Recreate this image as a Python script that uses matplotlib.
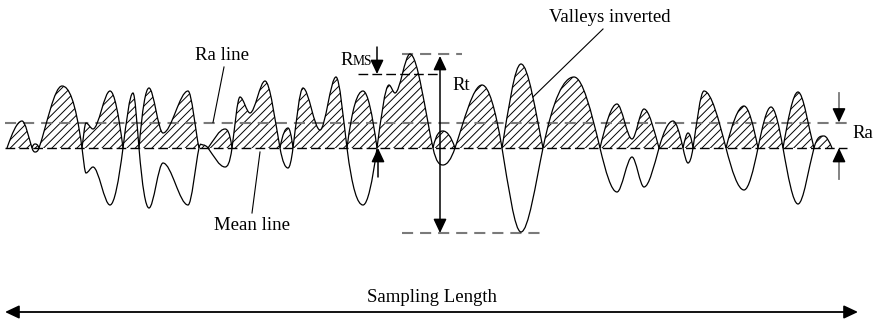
import numpy as np
import matplotlib
matplotlib.use("Agg")
import matplotlib.pyplot as plt
from matplotlib.path import Path
from matplotlib.patches import PathPatch

# Surface profile: knots at peaks, valleys and mean-line crossings
# x = position along the sampling length, y = height above the mean line
profile_x = [7, 22, 32, 35, 39, 62, 82, 86, 93, 110, 123, 133, 139, 149, 163,
             188, 199, 203, 208, 225, 232, 240, 250, 265, 280, 288, 293, 303,
             320, 336, 347, 363, 377, 389, 395, 410, 433, 443, 455, 482, 502,
             521, 543, 574, 600, 617, 632, 644, 659, 673, 683, 688, 693, 704,
             726, 744, 758, 771, 783, 798, 814, 824, 832]
profile_y = [0, 27, 0, -4, 0, 62, 0, -25, -19, -57, 0, 55, 0, -60, -15,
             -57, 0, 3, 0, -19, 0, 51, 35, 67, 0, -20, 0, 60,
             18, 71, 0, -57, 0, 63, 55, 94, 0, -17, 0, 63, 0,
             -84, 0, 71, 0, -44, -9, -39, 0, 27, 0, -15, 0, 57,
             0, -42, 0, 41, 0, -56, 0, 12, 0]

ra_level = 25.5          # Ra line height above the mean line
peak_level = 94          # highest peak
valley_level = -85       # deepest valley
rms_level = 74           # RMS marker level

MEAN_Y = 148  # figure-pixel row of the mean line (used for the axes limits)

plt.rcParams["lines.scale_dashes"] = False
SERIF = ["Liberation Serif", "DejaVu Serif"]

fig = plt.figure(figsize=(8.75, 3.2), dpi=100)
ax = fig.add_axes([0, 0, 1, 1])
ax.set_xlim(0, 875)
ax.set_ylim(MEAN_Y - 320, MEAN_Y)
ax.axis("off")

xs = np.asarray(profile_x, float)
ys = np.asarray(profile_y, float)
n = len(xs)

# tangent slopes: flat at extrema, sine-like at crossings
slopes = np.zeros(n)
for i in range(n):
    if ys[i] != 0:
        continue
    if i == 0:
        slopes[i] = np.pi / 2 * ys[1] / (xs[1] - xs[0])
    elif i == n - 1:
        slopes[i] = -np.pi / 2 * ys[i - 1] / (xs[i] - xs[i - 1])
    else:
        slopes[i] = np.pi / 4 * (ys[i + 1] / (xs[i + 1] - xs[i])
                                 - ys[i - 1] / (xs[i] - xs[i - 1]))


def segment(i):
    x0, y0, x1, y1 = xs[i], ys[i], xs[i + 1], ys[i + 1]
    d = (x1 - x0) / 3.0
    return [(x0 + d, y0 + slopes[i] * d), (x1 - d, y1 - slopes[i + 1] * d), (x1, y1)]


# profile outline
verts = [(xs[0], ys[0])]
codes = [Path.MOVETO]
for i in range(n - 1):
    verts += segment(i)
    codes += [Path.CURVE4] * 3
profile_path = Path(verts, codes)

# valleys folded above the mean line
fold_verts = [(xs[0], abs(ys[0]))]
fold_codes = [Path.MOVETO]
inv_verts, inv_codes = [], []
for i in range(n - 1):
    seg = segment(i)
    neg = (ys[i] + ys[i + 1]) < 0
    if neg:
        seg = [(px, -py) for px, py in seg]
        if not inv_codes or inv_verts[-1] != (xs[i], -ys[i]):
            inv_verts.append((xs[i], -ys[i]))
            inv_codes.append(Path.MOVETO)
        inv_verts += seg
        inv_codes += [Path.CURVE4] * 3
    fold_verts += seg
    fold_codes += [Path.CURVE4] * 3
fold_verts += [(xs[0], 0), (xs[0], 0)]
fold_codes += [Path.LINETO, Path.CLOSEPOLY]

plt.rcParams["hatch.linewidth"] = 0.7
ax.add_patch(PathPatch(Path(fold_verts, fold_codes), facecolor="white",
                       edgecolor="black", linewidth=0, hatch="////", zorder=2))
ax.add_patch(PathPatch(profile_path, facecolor="none", edgecolor="black",
                       linewidth=0.9, zorder=4))
ax.add_patch(PathPatch(Path(inv_verts, inv_codes), facecolor="none",
                       edgecolor="black", linewidth=0.9, zorder=4))

gray = "#7a7a7a"
# mean line and Ra line
ax.plot([5, 847], [0, 0], color="black", lw=1.0, ls=(0, (7, 3)), zorder=3)
ax.plot([5, 847], [ra_level, ra_level], color=gray, lw=1.5, ls=(0, (8, 5)), zorder=3)

# Rt reference lines
ax.plot([402, 462], [peak_level, peak_level], color=gray, lw=1.5, ls=(0, (8, 5)), zorder=3)
ax.plot([402, 542], [valley_level, valley_level], color=gray, lw=1.5, ls=(0, (8, 5)), zorder=3)
ax.plot([358, 440], [rms_level, rms_level], color="black", lw=1.0, ls=(0, (7, 3)), zorder=3)

head = "-|>,head_length=0.85,head_width=0.4"


def arrow(x0, y0, x1, y1, style=head, color="black", lw=1.1):
    ax.annotate("", xy=(x1, y1), xytext=(x0, y0),
                arrowprops=dict(arrowstyle=style, color=color, lw=lw,
                                shrinkA=0, shrinkB=0, mutation_scale=10),
                zorder=5)


# Rt double arrow
arrow(440, peak_level - 2, 440, valley_level,
      style="<|-|>,head_length=0.85,head_width=0.4")
# RMS arrows
arrow(377, MEAN_Y - 47, 377, rms_level)
arrow(378, MEAN_Y - 177, 378, 0)
# Ra arrows (grey shafts, black heads)
ax.plot([839, 839], [MEAN_Y - 93, ra_level + 10], color=gray, lw=1.3, zorder=4)
arrow(839, ra_level + 11, 839, ra_level)
ax.plot([839, 839], [MEAN_Y - 179, -10], color=gray, lw=1.3, zorder=4)
arrow(839, -11, 839, 0)

# sampling length arrow
arrow(5, MEAN_Y - 312, 858, MEAN_Y - 312,
      style="<|-|>,head_length=0.85,head_width=0.4", lw=1.3)

# leader lines
ax.plot([224, 213], [MEAN_Y - 67, ra_level], color="black", lw=0.8, zorder=5)
ax.plot([252, 260], [MEAN_Y - 213, MEAN_Y - 152], color="black", lw=0.8, zorder=5)
ax.plot([603, 533], [MEAN_Y - 29, MEAN_Y - 97], color="black", lw=0.8, zorder=5)

fs = 13.5
ax.text(222, MEAN_Y - 55, "Ra line", fontsize=fs, family=SERIF, ha="center", va="center")
ax.text(252, MEAN_Y - 225, "Mean line", fontsize=fs, family=SERIF, ha="center", va="center")
ax.text(610, MEAN_Y - 17, "Valleys inverted", fontsize=fs, family=SERIF, ha="center", va="center")
ax.text(461, MEAN_Y - 85, "Rt", fontsize=fs, family=SERIF, ha="center", va="center")
ax.text(863, MEAN_Y - 134, "Ra", fontsize=fs, family=SERIF, ha="center", va="center")
ax.text(353, MEAN_Y - 65, "R", fontsize=fs, family=SERIF, ha="right", va="baseline")
ax.text(353, MEAN_Y - 65, "MS", fontsize=fs * 0.72, family=SERIF, ha="left", va="baseline")
ax.text(432, MEAN_Y - 297, "Sampling Length", fontsize=fs, family=SERIF, ha="center", va="center")

fig.savefig("out.png", dpi=100)
